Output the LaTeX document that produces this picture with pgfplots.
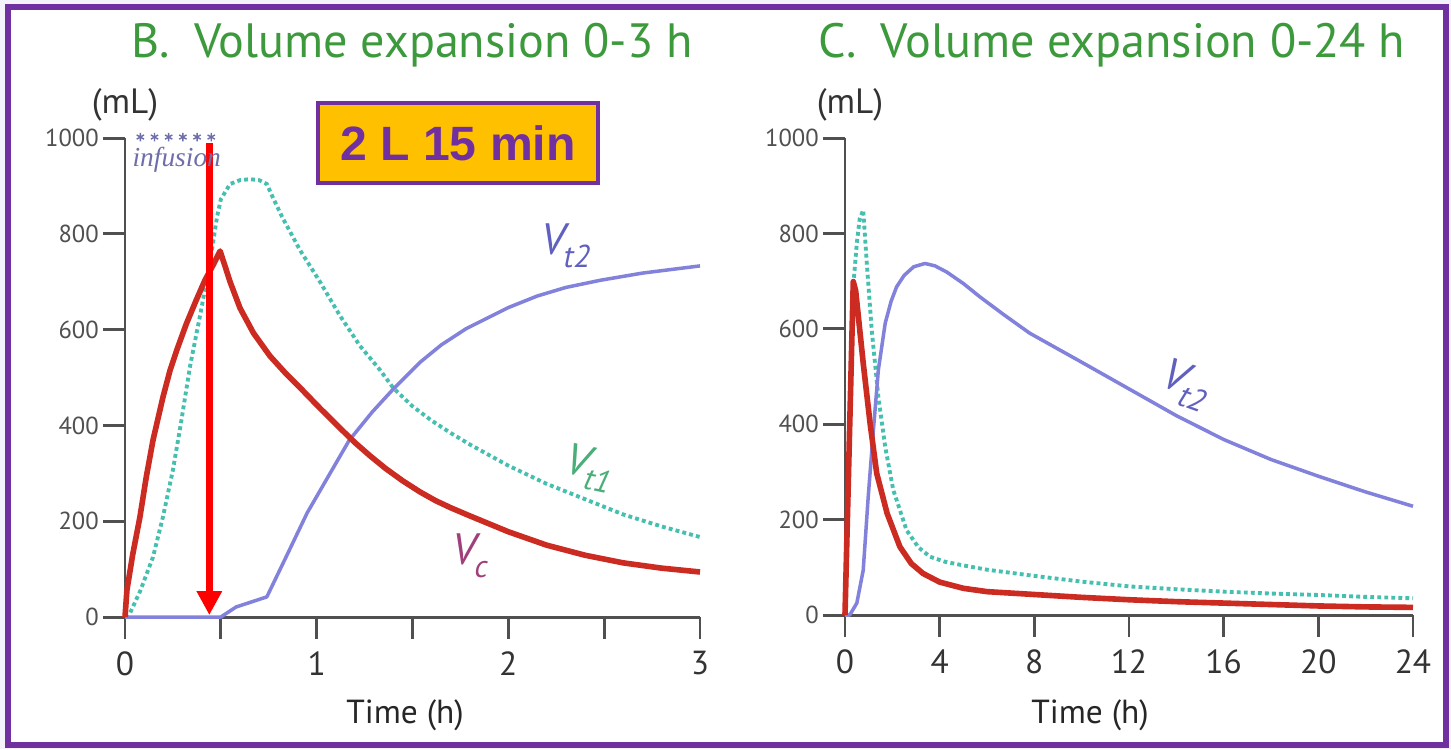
\documentclass[border=0pt]{standalone}
\usepackage{fontspec}
\setmainfont{PT Sans}
\newfontfamily\boxfont{Liberation Sans}
\newfontfamily\serifit{Liberation Serif}
\usepackage{pgfplots}
\pgfplotsset{compat=1.18}
\usetikzlibrary{arrows.meta}

\definecolor{frame}{HTML}{7030A0}
\definecolor{boxfill}{HTML}{FFC000}
\definecolor{ttl}{HTML}{3C9A3C}
\definecolor{vc}{HTML}{CC2B22}
\definecolor{vt1}{HTML}{45BFB0}
\definecolor{vt2}{HTML}{8282DC}
\definecolor{axgray}{HTML}{505050}
\definecolor{inf}{HTML}{6E6EAA}
\definecolor{vclab}{HTML}{A0407A}
\definecolor{vt1lab}{HTML}{4AAE78}
\definecolor{vt2lab}{HTML}{6060C0}

\newcommand{\lab}[2]{{\fontsize{12.5}{13}\selectfont\itshape V}\kern-0.5pt\raisebox{-3.5pt}{\fontsize{9}{9}\selectfont\itshape #2}}

\pgfplotsset{panel/.style={
  scale only axis, anchor=south west,
  ymin=0, ymax=1000, ytick={0,200,...,1000},
  axis x line=bottom, axis y line=left,
  axis line style={-, axgray, line width=0.85pt},
  tick style={axgray, line width=0.85pt},
  tick align=outside, major tick length=0.22cm,
  /pgf/number format/assume math mode=true,
  /pgf/number format/1000 sep={},
  yticklabel style={font=\fontsize{7}{8}\selectfont, text=axgray, inner sep=1pt},
  xticklabel style={font=\fontsize{9.5}{10}\selectfont, text=black!80},
  clip=false,
},
vcs/.style={vc, line width=1.6pt, line join=round},
vt1s/.style={vt1, line width=1.1pt, dash pattern=on 1.1pt off 0.9pt},
vt2s/.style={vt2, line width=1pt, line join=round}}

\begin{document}
\begin{tikzpicture}
\useasboundingbox (0,0) rectangle (14.51cm,7.49cm);
\fill[fill={rgb,255:red,244;green,242;blue,250}] (0,0) rectangle (14.51cm,7.49cm);
\draw[frame, line width=0.06cm, fill=white] (0.08cm,0.04cm) rectangle (14.46cm,7.42cm);

% panel B, 0-3 h
\begin{axis}[panel, at={(1.25cm,1.32cm)}, width=5.75cm, height=4.79cm,
  xmin=0, xmax=3, xtick={0,0.5,...,3}, xticklabels={0,,1,,2,,3}]
\addplot[vt1s] coordinates {
(0,0) (0.026,8) (0.08,55) (0.146,125) (0.198,209) (0.25,307) (0.29,400)
(0.34,525) (0.39,626) (0.443,739) (0.48,835) (0.5,872) (0.548,904) (0.6,912)
(0.652,914) (0.7,912) (0.74,904) (0.77,877) (0.82,835) (0.913,766) (1.017,700)
(1.12,630) (1.226,566) (1.33,516) (1.4,478) (1.5,440) (1.6,410) (1.7,384)
(1.8,360) (2.0,316) (2.2,278) (2.4,246) (2.6,214) (2.8,189) (3.0,167)};
\addplot[vt2s] coordinates {
(0,0) (0.5,0) (0.58,21) (0.74,42) (0.84,125) (0.95,217) (1.07,300) (1.17,369)
(1.29,428) (1.4,476) (1.54,532) (1.65,568) (1.78,602) (2.0,646) (2.15,670)
(2.3,688) (2.48,703) (2.7,718) (3.0,733)};
\addplot[vcs] coordinates {
(0,0) (0.01,56) (0.04,130) (0.078,209) (0.11,290) (0.146,369) (0.198,459)
(0.235,515) (0.27,557) (0.32,612) (0.37,660) (0.417,703) (0.46,735) (0.496,764)
(0.52,735) (0.548,700) (0.6,645) (0.67,593) (0.756,545) (0.84,508) (0.92,476)
(1.017,436) (1.12,395) (1.2,364) (1.28,336) (1.36,310) (1.45,284) (1.54,261)
(1.62,243) (1.7,228) (1.8,211) (2.0,178) (2.2,150) (2.4,129) (2.6,113)
(2.8,102) (3.0,94)};
\addplot[only marks, mark=asterisk, mark size=1.2pt, inf] coordinates {
(0.08,1002) (0.154,1002) (0.228,1002) (0.302,1002) (0.376,1002) (0.45,1002)};
\addplot[red, line width=1.9pt, -{Triangle[width=6.8pt,length=6.8pt]}]
  coordinates {(0.44,990) (0.44,4)};
\node[inf, font=\serifit\itshape\fontsize{7.8}{8}\selectfont] at (axis cs:0.27,954) {infusion};
\node[vt2lab] at (axis cs:2.3,775) {\lab{V}{t2}};
\node[vt1lab, rotate=-12] at (axis cs:2.42,310) {\lab{V}{t1}};
\node[vclab] at (axis cs:1.8,128) {\lab{V}{c}};
\end{axis}

% panel C, 0-24 h
\begin{axis}[panel, at={(8.45cm,1.34cm)}, width=5.68cm, height=4.77cm,
  xmin=0, xmax=24, xtick={0,4,...,24}]
\addplot[vt1s] coordinates {
(0,0) (0.1,170) (0.2,380) (0.35,690) (0.5,780) (0.62,830) (0.77,849) (0.92,738)
(1.13,597) (1.41,457) (1.7,352) (2.04,262) (2.6,178) (3.1,142) (3.6,122)
(4.2,112) (5.0,104) (6,95) (8,82) (10,70) (12,60) (14,54) (16,49) (18,45)
(20,42) (22,38) (24,35)};
\addplot[vt2s] coordinates {
(0,0) (0.2,0) (0.5,25) (0.77,94) (0.98,247) (1.2,388) (1.41,514) (1.7,612)
(1.95,658) (2.18,688) (2.5,712) (2.9,730) (3.38,737) (3.8,732) (4.3,719)
(5.0,695) (5.7,667) (6.7,630) (7.8,591) (10,530) (12,474) (14,418) (16,368)
(18,326) (20,291) (22,258) (24,228)};
\addplot[vcs] coordinates {
(0,0) (0.35,699) (0.45,680) (0.77,528) (1.06,402) (1.34,297) (1.78,213)
(2.32,143) (2.8,108) (3.3,87) (4.0,69) (5.0,56) (6,49) (8,43) (10,37) (12,32)
(14,28) (16,25) (18,22) (20,19) (22,17) (24,16)};
\node[vt2lab, rotate=-20] at (axis cs:14.4,482) {\lab{V}{t2}};
\end{axis}

% titles and labels
\node[text=ttl, font=\fontsize{13.7}{16}\selectfont] at (4.12cm,7.04cm) {B.\enspace Volume expansion 0-3 h};
\node[text=ttl, font=\fontsize{13.7}{16}\selectfont] at (11.12cm,7.04cm) {C.\enspace Volume expansion 0-24 h};
\node[text=black!80, font=\fontsize{10}{11}\selectfont] at (1.25cm,6.44cm) {(mL)};
\node[text=black!80, font=\fontsize{10}{11}\selectfont] at (8.50cm,6.44cm) {(mL)};
\node[text=black!85, font=\fontsize{9.5}{10}\selectfont] at (4.05cm,0.34cm) {Time (h)};
\node[text=black!85, font=\fontsize{9.5}{10}\selectfont] at (10.90cm,0.34cm) {Time (h)};
\node[draw=frame, line width=1.2pt, fill=boxfill, minimum width=2.8cm, minimum height=0.8cm,
  text=frame, font=\boxfont\bfseries\fontsize{13.7}{15}\selectfont] at (4.58cm,6.06cm) {2 L 15 min};
\end{tikzpicture}
\end{document}
